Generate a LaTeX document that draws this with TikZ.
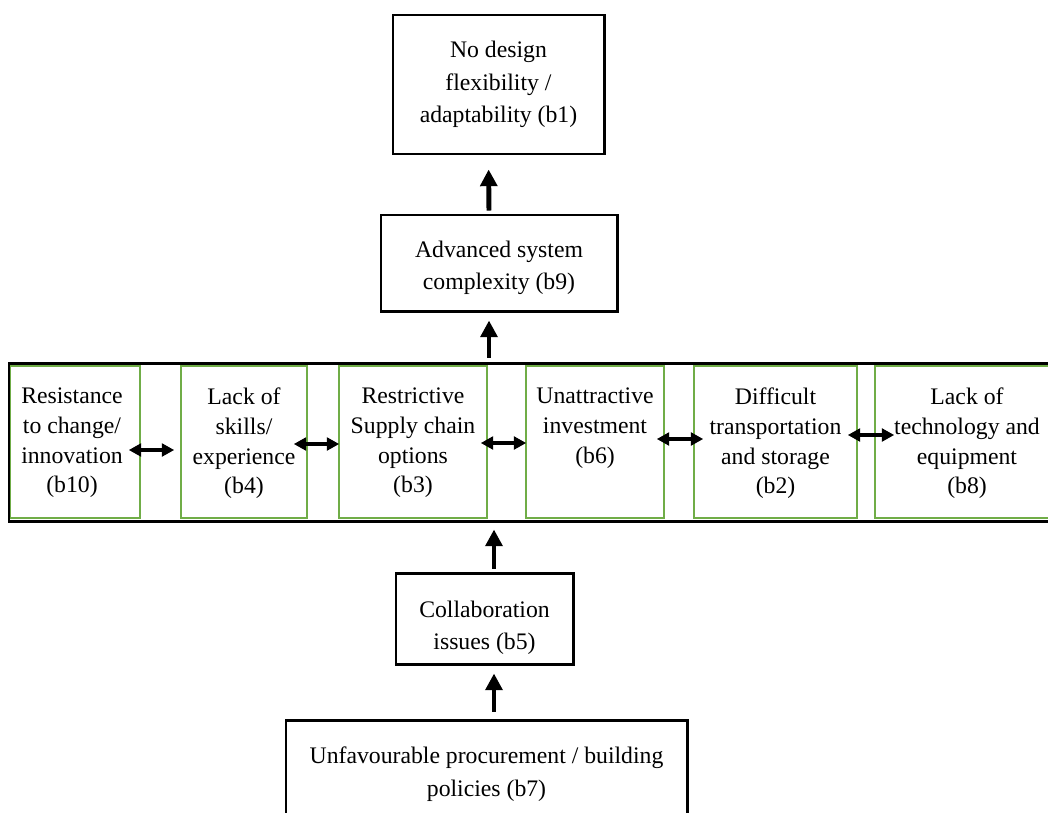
\documentclass[tikz,border=0pt]{standalone}
\usepackage{fontspec}
\setmainfont{Liberation Serif}
\usetikzlibrary{arrows.meta,fit}
\definecolor{boxgreen}{HTML}{70AD47}
\begin{document}
\begin{tikzpicture}[x=0.02cm, y=-0.02cm,
    blackbox/.style={draw, line width=1.7pt, inner sep=0pt},
    greenbox/.style={draw=boxgreen, line width=0.9pt, inner sep=0pt},
    boxtext/.style={align=center, inner sep=0pt, font=\fontsize{13.5}{18.5}\selectfont},
    bandtext/.style={align=center, inner sep=0pt, anchor=north, yshift=-0.44cm, font=\fontsize{13.5}{17}\selectfont},
    uparrow/.style={-{Triangle[length=9.5pt,width=9.5pt]}, line width=2.8pt},
    biarrow/.style={{Triangle[length=7pt,width=7.2pt]}-{Triangle[length=7pt,width=7.2pt]}, line width=2pt}]
        \useasboundingbox (0,0) rectangle (1048,812);
        % top boxes
        \node [blackbox, fit={(393,15) (604,154)}, label={[boxtext]center:No design\\flexibility /\\adaptability (b1)}] (b1) {};
        \node [blackbox, fit={(381,215) (617,311)}, label={[boxtext, yshift=-0.1cm]center:Advanced system\\complexity (b9)}] (b9) {};
        % band of barriers
        \node [greenbox, fit={(10,366) (140,518)}, label={[bandtext, xshift=-0.06cm]north:Resistance\\to change/\\innovation\\(b10)}] (b10) {};
        \node [greenbox, fit={(181,366) (307,518)}, label={[bandtext]north:Lack of\\skills/\\experience\\(b4)}] (b4) {};
        \node [greenbox, fit={(339,366) (487,518)}, label={[bandtext]north:Restrictive\\Supply chain\\options\\(b3)}] (b3) {};
        \node [greenbox, fit={(526,366) (664,518)}, label={[bandtext]north:Unattractive\\investment\\(b6)}] (b6) {};
        \node [greenbox, fit={(694,366) (857,518)}, label={[bandtext]north:Difficult\\transportation\\and storage\\(b2)}] (b2) {};
        \node [greenbox, fit={(875,366) (1059,518)}, label={[bandtext]north:Lack of\\technology and\\equipment\\(b8)}] (b8) {};
        \node [blackbox, fit={(9,363) (1062,521)}] (band) {};
        % bottom boxes
        \node [blackbox, fit={(396,573) (573,664)}, label={[boxtext, yshift=-0.19cm]center:Collaboration\\issues (b5)}] (b5) {};
        \node [blackbox, fit={(286,720) (687,828)}, label={[boxtext]center:Unfavourable procurement / building\\policies (b7)}] (b7) {};
        % vertical arrows
        \coordinate (b9in) at ([xshift=-0.2cm]b9.south);
        \coordinate (b5out) at ([xshift=0.19cm]b5.north);
        \coordinate (b5in) at ([xshift=0.19cm]b5.south);
        \draw [uparrow, shorten <=0.06cm, shorten >=0.28cm] ([xshift=-0.2cm]b9.north) -- ([xshift=-0.2cm]b1.south);
        \draw [uparrow, shorten <=0.08cm, shorten >=0.16cm] (band.north -| b9in) -- (b9in);
        \draw [uparrow, shorten <=0.06cm, shorten >=0.14cm] (b5out) -- (b5out |- band.south);
        \draw [uparrow, shorten <=0.14cm, shorten >=0.16cm] (b7.north -| b5in) -- (b5in);
        % horizontal arrows
        \draw [biarrow] ([shift={(-12,8)}]b10.east) -- ([shift={(-6,8)}]b4.west);
        \draw [biarrow] ([shift={(-14,2)}]b4.east) -- ([shift={(1,2)}]b3.west);
        \draw [biarrow] ([shift={(-7,1)}]b3.east) -- ([shift={(1,1)}]b6.west);
        \draw [biarrow] ([shift={(-8,-3)}]b6.east) -- ([shift={(10,-3)}]b2.west);
        \draw [biarrow] ([shift={(-10,-7)}]b2.east) -- ([shift={(20,-7)}]b8.west);
\end{tikzpicture}
\end{document}
